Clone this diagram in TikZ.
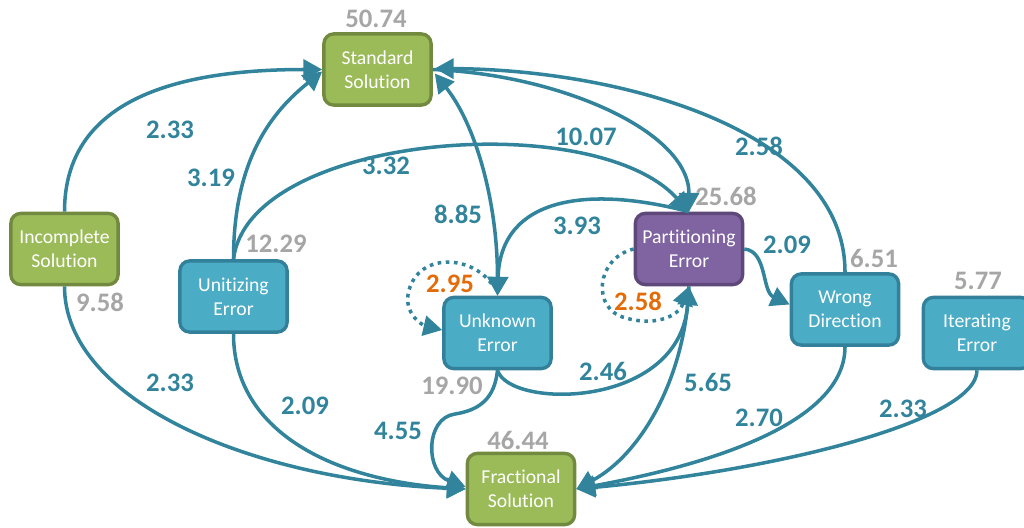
\documentclass[tikz,border=0pt]{standalone}
\usepackage{fontspec}
\setmainfont{Carlito}[Ligatures=NoCommon]
\usetikzlibrary{arrows.meta}
\definecolor{edgeteal}{HTML}{31849B}
\definecolor{greenfill}{HTML}{9BBB59}
\definecolor{greenline}{HTML}{728A3F}
\definecolor{bluefill}{HTML}{4BACC6}
\definecolor{blueline}{HTML}{33809A}
\definecolor{purplefill}{HTML}{8064A2}
\definecolor{purpleline}{HTML}{5E4879}
\definecolor{countgray}{HTML}{A6A6A6}
\definecolor{loopnum}{HTML}{E36C09}
\begin{document}
\begin{tikzpicture}[x=0.025cm,y=-0.025cm,
  box/.style={draw, line width=2.4pt, rounded corners=7pt,
    minimum width=2.68cm, minimum height=1.78cm, inner sep=0pt,
    align=center, text=white, font=\fontsize{14}{17}\selectfont},
  solbox/.style={box, fill=greenfill, draw=greenline},
  errbox/.style={box, fill=bluefill, draw=blueline},
  keybox/.style={box, fill=purplefill, draw=purpleline},
  tip/.tip={Triangle[length=0.47cm,width=0.5cm]},
  link/.style={draw=edgeteal, line width=2.5pt, -tip},
  link2/.style={draw=edgeteal, line width=2.5pt, tip-tip},
  selfloop/.style={draw=edgeteal, line width=2.5pt, dash pattern=on 2.6pt off 3.2pt, -tip},
  num/.style={inner sep=0pt, font=\fontsize{19}{22}\selectfont\bfseries},
  wlabel/.style={num, text=edgeteal},
  count/.style={num, text=countgray},
  looplabel/.style={num, text=loopnum}]

\clip (0,0) rectangle (1024,527);

% states
\node[solbox] (std) at (377.5,69.5) {Standard\\Solution};
\node[solbox] (inc) at (64.5,249) {Incomplete\\Solution};
\node[errbox] (uni) at (233.5,296.5) {Unitizing\\Error};
\node[errbox] (unk) at (497.5,333) {Unknown\\Error};
\node[keybox] (par) at (689,249) {Partitioning\\Error};
\node[errbox] (wrg) at (845,309.5) {Wrong\\Direction};
\node[errbox] (itr) at (977,333) {Iterating\\Error};
\node[solbox] (frc) at (521,489) {Fractional\\Solution};

% transitions into Standard Solution
\draw[link] (inc.north) .. controls +(0,-110) and +(-150,0) .. (std.west);
\draw[link] (uni.north) .. controls +(0,-100) and +(-50,40) .. ([shift={(0,2)}]std.west);
\draw[link] (wrg.north) .. controls +(0,-142) and +(186,1) .. ([shift={(2,-1)}]std.east);
\draw[link2] ([shift={(2,4)}]std.east) .. controls +(40,50) and +(0,-96) .. (unk.north);

% transitions into Partitioning Error
\draw[link] (uni.north) .. controls +(15,-125) and +(-95,-105) .. (par.north);
\draw[link] (std.east) .. controls +(126,5) and +(0,-81) .. (par.north);
\draw[link] (unk.south) .. controls +(12,39) and +(-9,123) .. (par.south);

% Partitioning Error onwards
\draw[link] (par.north) .. controls +(-99,-26) and +(3,-100) .. (unk.north);
\draw[link] (par.east) .. controls +(23,2) and +(-28,-13) .. ([shift={(0,-5)}]wrg.west);
\draw[link] (par.south) .. controls +(-4,93) and +(64,-34) .. (frc.east);

% transitions into Fractional Solution
\draw[link] (wrg.south) .. controls +(0,84) and +(104,-19) .. (frc.east);
\draw[link] (itr.south) .. controls +(0,50) and +(204,-19) .. (frc.east);
\draw[link] (inc.south) .. controls +(0,114) and +(-216,-9) .. (frc.west);
\draw[link] (uni.south) .. controls +(0,96) and +(-136,-9) .. (frc.west);
\draw[link] (unk.south) .. controls +(-3,28) and +(25,-4) .. (455,414)
  .. controls (425,418) and (425,472) .. ([shift={(0,-2)}]frc.west);

% self transitions
\draw[selfloop] ([shift={(-6,-12)}]unk.north) .. controls +(-20,-28) and +(11,-38) .. (409,290)
  .. controls (402,315) and (425,326) .. ([shift={(0,-3)}]unk.west);
\draw[selfloop] (par.west) .. controls +(-38,9) and +(-35,-8) .. (626,318)
  .. controls (652,326) and (678,318) .. (par.south);

% state counts
\node[count] (c-std) at (376,18.5) {50.74};
\node[count] (c-uni) at (276,244) {12.29};
\node[count] (c-inc) at (100,302) {9.58};
\node[count] (c-par) at (726,196) {25.68};
\node[count] (c-wrg) at (874,258) {6.51};
\node[count] (c-itr) at (978,281) {5.77};
\node[count] (c-unk) at (452,386) {19.90};
\node[count] (c-frc) at (518,440) {46.44};

% transition weights
\node[wlabel] (w1) at (170,130) {2.33};
\node[wlabel] (w2) at (211,178) {3.19};
\node[wlabel] (w3) at (386,166) {3.32};
\node[wlabel] (w4) at (586,137) {10.07};
\node[wlabel] (w5) at (759,146) {2.58};
\node[wlabel] (w6) at (458,214) {8.85};
\node[wlabel] (w7) at (577,226) {3.93};
\node[wlabel] (w8) at (787,245) {2.09};
\node[wlabel] (w9) at (170,383) {2.33};
\node[wlabel] (w10) at (305,406) {2.09};
\node[wlabel] (w11) at (398,431) {4.55};
\node[wlabel] (w12) at (603,371) {2.46};
\node[wlabel] (w13) at (708,382) {5.65};
\node[wlabel] (w14) at (759,418) {2.70};
\node[wlabel] (w15) at (903,409) {2.33};
\node[looplabel] (l1) at (450,284) {2.95};
\node[looplabel] (l2) at (638,301) {2.58};
\end{tikzpicture}
\end{document}
